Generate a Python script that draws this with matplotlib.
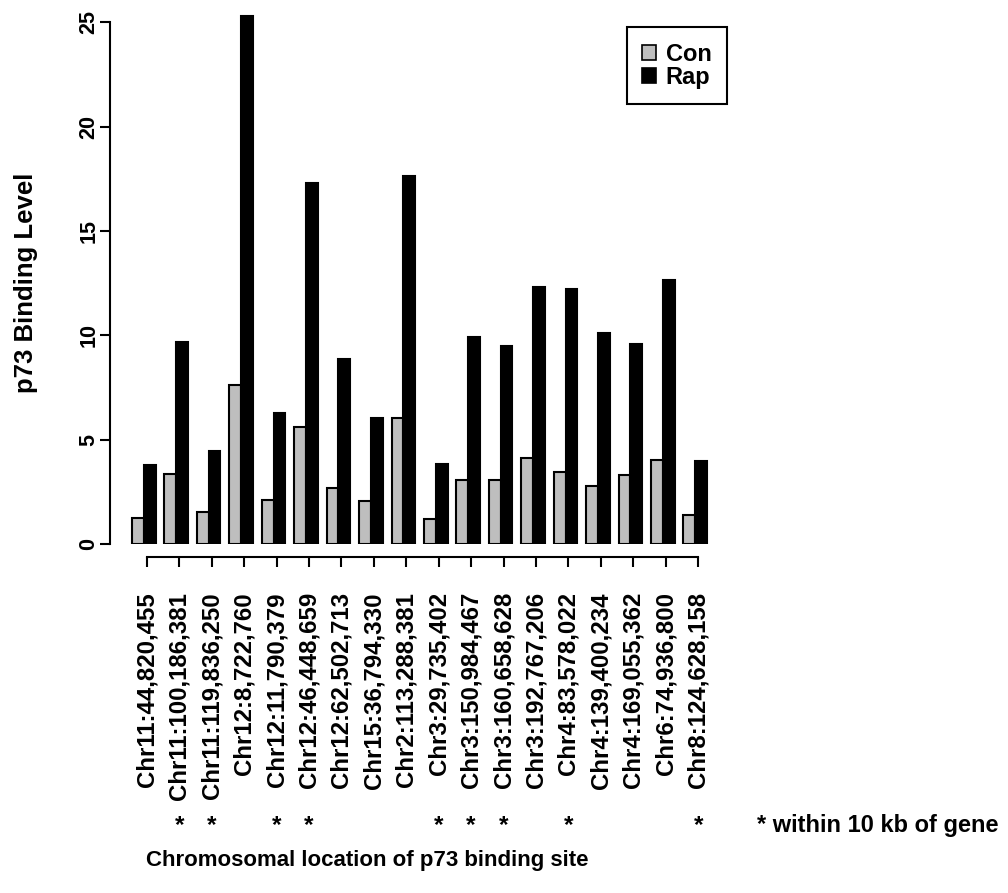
import matplotlib
matplotlib.use('Agg')
import matplotlib.pyplot as plt
import matplotlib.transforms as transforms
from matplotlib.patches import Patch
import numpy as np

plt.rcParams['font.family'] = 'Liberation Sans'
plt.rcParams['font.weight'] = 'bold'

# Data
sites = ["Chr11:44,820,455", "Chr11:100,186,381", "Chr11:119,836,250",
         "Chr12:8,722,760", "Chr12:11,790,379", "Chr12:46,448,659",
         "Chr12:62,502,713", "Chr15:36,794,330", "Chr2:113,288,381",
         "Chr3:29,735,402", "Chr3:150,984,467", "Chr3:160,658,628",
         "Chr3:192,767,206", "Chr4:83,578,022", "Chr4:139,400,234",
         "Chr4:169,055,362", "Chr6:74,936,800", "Chr8:124,628,158"]
con = [1.23, 3.37, 1.54, 7.64, 2.12, 5.59, 2.67, 2.05, 6.03,
       1.20, 3.09, 3.06, 4.12, 3.44, 2.77, 3.32, 4.04, 1.40]
rap = [3.79, 9.69, 4.46, 25.28, 6.29, 17.30, 8.84, 6.02, 17.62,
       3.85, 9.90, 9.50, 12.29, 12.22, 10.12, 9.60, 12.67, 4.00]
near_gene = [False, True, True, False, True, True, False, False, False,
             True, True, True, False, True, False, False, False, True]
y_ticks = [0, 5, 10, 15, 20, 25]

# Layout
W, H = 1008, 893
group_step = 2.75
centers = np.arange(len(sites)) * group_step

fig = plt.figure(figsize=(W / 100, H / 100), dpi=100)
ax = fig.add_axes([110 / W, 1 - 544 / H, 600 / W, 534.3 / H])

ax.bar(centers - 0.5, con, width=1, color='#bebebe', edgecolor='black', linewidth=1.5)
ax.bar(centers + 0.5, rap, width=1, color='black', edgecolor='black', linewidth=1.5)

ax.set_xlim(-2.866, 48.0)
ax.set_ylim(0, 25.6)

# Axes styling (R-like detached axes)
for side in ['top', 'right']:
    ax.spines[side].set_visible(False)
ax.spines['left'].set_bounds(0, 25)
ax.spines['left'].set_linewidth(1.5)
ax.spines['bottom'].set_position(('outward', 9.4))
tick_pos = centers + 0.25
ax.spines['bottom'].set_bounds(tick_pos[0], tick_pos[-1])
ax.spines['bottom'].set_linewidth(1.5)

ax.set_yticks(y_ticks)
ax.set_yticklabels([str(v) for v in y_ticks], rotation=90, va='center', fontsize=15.5)
ax.tick_params(axis='y', length=7.2, width=1.5, pad=0.5)

ax.set_xticks(tick_pos)
ax.set_xticklabels(sites, rotation=90, ha='center', va='top', fontsize=17.3)
ax.tick_params(axis='x', length=7.2, width=1.5, pad=18)

# Asterisks for sites within 10 kb of a gene
trans = transforms.blended_transform_factory(ax.transData, fig.transFigure)
for x, flag in zip(tick_pos, near_gene):
    if flag:
        ax.text(x, 1 - 832 / H, '*', transform=trans, ha='center', va='baseline',
                fontsize=17.5)
fig.text(756.7 / W, 1 - 832 / H, '* within 10 kb of gene', ha='left', va='baseline',
         fontsize=17)

fig.text(367.5 / W, 1 - 866 / H, 'Chromosomal location of p73 binding site',
         ha='center', va='baseline', fontsize=16)
fig.text(26 / W, 1 - 283 / H, 'p73 Binding Level', rotation=90,
         ha='center', va='center', fontsize=18.5)

handles = [Patch(facecolor='#bebebe', edgecolor='black', linewidth=1.2),
           Patch(facecolor='black', edgecolor='black', linewidth=1.2)]
leg = fig.legend(handles, ['Con', 'Rap'], loc='upper left',
                 bbox_to_anchor=(626.7 / W, 1 - 27.3 / H), frameon=True,
                 fancybox=False, edgecolor='black', framealpha=1, borderaxespad=0,
                 fontsize=17, handlelength=0.6, handleheight=0.6,
                 handletextpad=0.4, labelspacing=0.0, borderpad=0.65)
leg.get_frame().set_linewidth(1.5)

fig.savefig('out.png', dpi=100)
